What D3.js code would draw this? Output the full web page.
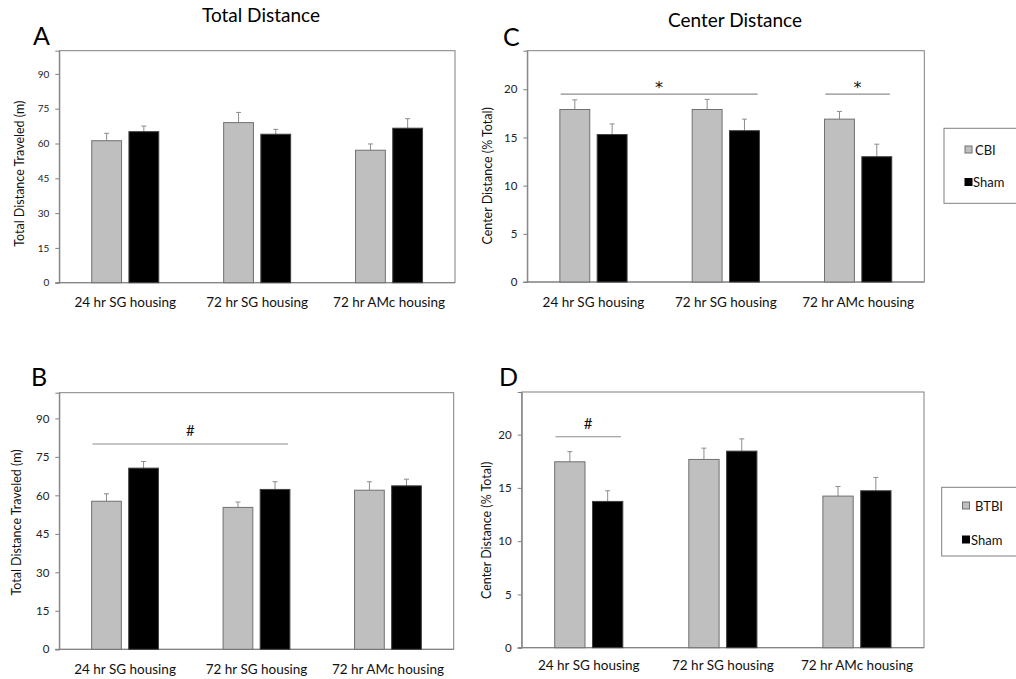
<!DOCTYPE html>
<html>
<head>
<meta charset="utf-8">
<script src="https://cdn.jsdelivr.net/npm/d3@7/dist/d3.min.js"></script>
<style>
  html, body { margin: 0; padding: 0; background: #fff; }
  svg { display: block; font-family: Lato, "Open Sans", sans-serif; }
</style>
</head>
<body>
<svg id="chart" width="1016" height="679"></svg>
<script>
// Shared categories and axis ticks
const categories = ["24 hr SG housing", "72 hr SG housing", "72 hr AMc housing"];
const distanceTicks = [0, 15, 30, 45, 60, 75, 90];
const centerTicks = [0, 5, 10, 15, 20];

// Panel A: total distance, CBI vs Sham (m)
const totalCbi = [61.2, 69.0, 57.1];
const totalCbiErr = [3.2, 4.4, 2.7];
const totalCbiSham = [65.1, 64.0, 66.6];
const totalCbiShamErr = [2.4, 2.1, 4.1];

// Panel B: total distance, BTBI vs Sham (m)
const totalBtbi = [57.7, 55.3, 62.0];
const totalBtbiErr = [2.9, 2.1, 3.3];
const totalBtbiSham = [70.6, 62.3, 63.7];
const totalBtbiShamErr = [2.6, 3.0, 2.6];

// Panel C: center distance, CBI vs Sham (% total)
const centerCbi = [17.9, 17.9, 16.9];
const centerCbiErr = [1.0, 1.05, 0.8];
const centerCbiSham = [15.3, 15.7, 13.0];
const centerCbiShamErr = [1.1, 1.2, 1.3];

// Panel D: center distance, BTBI vs Sham (% total)
const centerBtbi = [17.45, 17.67, 14.23];
const centerBtbiErr = [0.95, 1.06, 0.9];
const centerBtbiSham = [13.73, 18.45, 14.73];
const centerBtbiShamErr = [1.0, 1.15, 1.25];

// Significance brackets: [start category, end category, level, symbol]
const sigB = [[0, 1, 80, "#"]];
const sigC = [[0, 1, 19.5, "*"], [2, 2, 19.5, "*"]];
const sigD = [[0, 0, 19.8, "#"]];

const GRAY = "#bfbfbf";
const svg = d3.select("#chart");

function drawPanel(p) {
  const g = svg.append("g");
  const x = d3.scaleBand().domain(categories).range([p.left, p.right]);
  const y = d3.scaleLinear().domain([0, p.max]).range([p.bottom, p.top]);
  const bw = x.bandwidth();

  // plot frame
  g.append("rect")
    .attr("x", p.left).attr("y", p.top)
    .attr("width", p.right - p.left).attr("height", p.bottom - p.top)
    .attr("fill", "none").attr("stroke", "#808080").attr("stroke-width", 1);

  // y axis
  const yAxis = d3.axisLeft(y).tickValues(p.ticks).tickSize(4).tickPadding(6);
  const ya = g.append("g").attr("transform", `translate(${p.left},0)`).call(yAxis);
  ya.select(".domain").attr("stroke", "#808080");
  ya.selectAll(".tick line").attr("stroke", "#808080");
  ya.selectAll(".tick text").attr("font-size", p.tickSize).attr("fill", "#222")
    .attr("font-family", "Lato, sans-serif");

  // x axis (category labels, no tick marks)
  const xAxis = d3.axisBottom(x).tickSize(0).tickPadding(p.catPad);
  const xa = g.append("g").attr("transform", `translate(0,${p.bottom})`).call(xAxis);
  xa.select(".domain").attr("stroke", "#808080").attr("d", `M${p.left - 4},0H${p.right}`);
  xa.selectAll(".tick text").attr("font-size", 13.5).attr("fill", "#111")
    .attr("font-family", "Lato, sans-serif");

  const series = [
    { vals: p.a, errs: p.aErr, fill: GRAY, stroke: "#707070", off: 0.246 },
    { vals: p.b, errs: p.bErr, fill: "#000", stroke: "#404040", off: 0.528 }
  ];
  const barW = bw * 0.226;

  series.forEach(s => {
    const cx = (c) => x(c) + bw * s.off + barW / 2;
    // error bars (upper only)
    g.selectAll(null).data(categories).enter().append("line")
      .attr("x1", cx).attr("x2", cx)
      .attr("y1", (c, i) => y(s.vals[i]))
      .attr("y2", (c, i) => y(s.vals[i] + s.errs[i]))
      .attr("stroke", "#8c8c8c").attr("stroke-width", 1);
    g.selectAll(null).data(categories).enter().append("line")
      .attr("x1", c => cx(c) - 2.5).attr("x2", c => cx(c) + 2.5)
      .attr("y1", (c, i) => y(s.vals[i] + s.errs[i]))
      .attr("y2", (c, i) => y(s.vals[i] + s.errs[i]))
      .attr("stroke", "#8c8c8c").attr("stroke-width", 1);
    // bars
    g.selectAll(null).data(categories).enter().append("rect")
      .attr("x", c => x(c) + bw * s.off)
      .attr("y", (c, i) => y(s.vals[i]))
      .attr("width", barW)
      .attr("height", (c, i) => y(0) - y(s.vals[i]))
      .attr("fill", s.fill).attr("stroke", s.stroke).attr("stroke-width", 1);
  });

  // significance brackets
  (p.sig || []).forEach(([c0, c1, lvl, sym]) => {
    const x0 = x(categories[c0]) + bw * 0.252;
    const x1 = x(categories[c1]) + bw * 0.74;
    g.append("line").attr("x1", x0).attr("x2", x1)
      .attr("y1", y(lvl)).attr("y2", y(lvl))
      .attr("stroke", "#8c8c8c").attr("stroke-width", 1.2);
    const star = sym === "*";
    g.append("text").attr("x", (x0 + x1) / 2)
      .attr("y", y(lvl) + (star ? -1 : -8))
      .attr("text-anchor", "middle").attr("font-size", star ? 16 : 15)
      .attr("font-family", star ? "'DejaVu Sans', sans-serif" : "Lato, sans-serif")
      .attr("fill", "#111")
      .text(sym);
  });

  // y axis title
  g.append("text")
    .attr("transform", `translate(${p.titleX},${(p.top + p.bottom) / 2 + p.titleDy}) rotate(-90)`)
    .attr("text-anchor", "middle").attr("dominant-baseline", "central")
    .attr("font-size", 12.5).attr("fill", "#111")
    .text(p.yTitle);

  // panel letter
  g.append("text").attr("x", p.letterX).attr("y", p.letterY)
    .attr("font-size", 25).attr("fill", "#000").text(p.letter);
}

drawPanel({ letter: "A", letterX: 33, letterY: 45, left: 59.3, right: 455, top: 50.7, bottom: 282.7,
  max: 100, ticks: distanceTicks, tickSize: 10, catPad: 15, a: totalCbi, aErr: totalCbiErr,
  b: totalCbiSham, bErr: totalCbiShamErr, yTitle: "Total Distance Traveled (m)", titleX: 19, titleDy: 7 });
drawPanel({ letter: "B", letterX: 31, letterY: 386, left: 59.3, right: 453.7, top: 392.7, bottom: 649.3,
  max: 100, ticks: distanceTicks, tickSize: 11.5, catPad: 15, a: totalBtbi, aErr: totalBtbiErr,
  b: totalBtbiSham, bErr: totalBtbiShamErr, sig: sigB, yTitle: "Total Distance Traveled (m)", titleX: 16, titleDy: 1.5 });
drawPanel({ letter: "C", letterX: 503, letterY: 46, left: 527.3, right: 924.3, top: 50.7, bottom: 282,
  max: 24, ticks: centerTicks, tickSize: 11.5, catPad: 15, a: centerCbi, aErr: centerCbiErr,
  b: centerCbiSham, bErr: centerCbiShamErr, sig: sigC, yTitle: "Center Distance (% Total)", titleX: 487.5, titleDy: 9.5 });
drawPanel({ letter: "D", letterX: 499, letterY: 386, left: 521.7, right: 924, top: 392, bottom: 647.7,
  max: 24, ticks: centerTicks, tickSize: 11.5, catPad: 13, a: centerBtbi, aErr: centerBtbiErr,
  b: centerBtbiSham, bErr: centerBtbiShamErr, sig: sigD, yTitle: "Center Distance (% Total)", titleX: 486, titleDy: 10.5 });

// column titles
svg.append("text").attr("x", 261).attr("y", 22).attr("text-anchor", "middle")
  .attr("font-size", 19).attr("fill", "#000").text("Total Distance");
svg.append("text").attr("x", 735).attr("y", 27).attr("text-anchor", "middle")
  .attr("font-size", 19).attr("fill", "#000").text("Center Distance");

// legends
function drawLegend(l) {
  const g = svg.append("g");
  g.append("rect").attr("x", l.x).attr("y", l.y).attr("width", 100).attr("height", l.h)
    .attr("fill", "#fff").attr("stroke", "#808080").attr("stroke-width", 1);
  l.items.forEach((it, i) => {
    g.append("rect").attr("x", l.sx).attr("y", l.rows[i] - 3.5).attr("width", 7).attr("height", 7)
      .attr("fill", it.fill).attr("stroke", it.stroke).attr("stroke-width", 1);
    g.append("text").attr("x", l.tx[i]).attr("y", l.rows[i]).attr("dominant-baseline", "central")
      .attr("font-size", 13).attr("fill", "#111").text(it.label);
  });
}
drawLegend({ x: 944, y: 128.3, h: 75, sx: 965, tx: [975, 973], rows: [149.5, 182],
  items: [{ label: "CBI", fill: GRAY, stroke: "#707070" }, { label: "Sham", fill: "#000", stroke: "#000" }] });
drawLegend({ x: 941.7, y: 487.3, h: 68.7, sx: 962.5, tx: [975, 971], rows: [505.5, 539.5],
  items: [{ label: "BTBI", fill: GRAY, stroke: "#707070" }, { label: "Sham", fill: "#000", stroke: "#000" }] });
</script>
</body>
</html>
